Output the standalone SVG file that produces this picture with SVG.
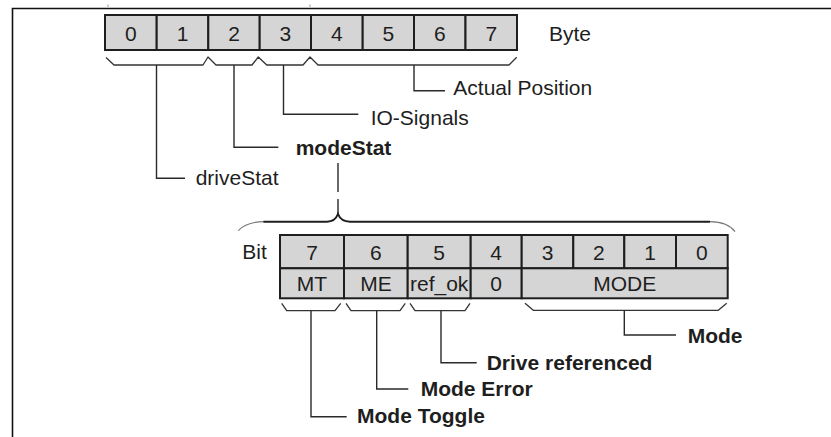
<svg xmlns="http://www.w3.org/2000/svg" width="831" height="437" viewBox="0 0 831 437">
<style>
text{font-family:"Liberation Sans",Arial,sans-serif;font-size:21px;fill:#1e1e1e}
.b{font-weight:bold}
.c{text-anchor:middle}
.cell{fill:#d5d5d5;stroke:#1e1e1e;stroke-width:2}
.ln{fill:none;stroke:#2a2a2a;stroke-width:1.4}
.br{fill:none;stroke:#333;stroke-width:1.3;stroke-linejoin:round}
</style>
<rect width="831" height="437" fill="#fff"/>
<g id="frame">
<path d="M12.5,437 V8.5 H831" fill="none" stroke="#111" stroke-width="1.6"/>
<path d="M108,4.5 V7 M310,4.5 V7" stroke="#999" stroke-width="1"/>
</g>
<g id="byte-row">
<rect class="cell" x="105" y="15" width="51.7" height="35"/>
<rect class="cell" x="156.7" y="15" width="51.6" height="35"/>
<rect class="cell" x="208.3" y="15" width="51.4" height="35"/>
<rect class="cell" x="259.7" y="15" width="51.3" height="35"/>
<rect class="cell" x="311" y="15" width="51.7" height="35"/>
<rect class="cell" x="362.7" y="15" width="51.3" height="35"/>
<rect class="cell" x="414" y="15" width="51.5" height="35"/>
<rect class="cell" x="465.5" y="15" width="51.5" height="35"/>
<text class="c" x="130.9" y="40.5">0</text>
<text class="c" x="182.5" y="40.5">1</text>
<text class="c" x="234" y="40.5">2</text>
<text class="c" x="285.4" y="40.5">3</text>
<text class="c" x="336.9" y="40.5">4</text>
<text class="c" x="388.4" y="40.5">5</text>
<text class="c" x="439.8" y="40.5">6</text>
<text class="c" x="491.3" y="40.5">7</text>
<text x="549" y="40.7">Byte</text>
</g>
<g id="bit-table">
<rect class="cell" x="280" y="235" width="64" height="33.3"/>
<rect class="cell" x="344" y="235" width="63.7" height="33.3"/>
<rect class="cell" x="407.7" y="235" width="63" height="33.3"/>
<rect class="cell" x="470.7" y="235" width="51" height="33.3"/>
<rect class="cell" x="521.7" y="235" width="51.6" height="33.3"/>
<rect class="cell" x="573.3" y="235" width="51" height="33.3"/>
<rect class="cell" x="624.3" y="235" width="51.7" height="33.3"/>
<rect class="cell" x="676" y="235" width="51.7" height="33.3"/>
<rect class="cell" x="280" y="268.3" width="64" height="30"/>
<rect class="cell" x="344" y="268.3" width="63.7" height="30"/>
<rect class="cell" x="407.7" y="268.3" width="63" height="30"/>
<rect class="cell" x="470.7" y="268.3" width="51" height="30"/>
<rect class="cell" x="521.7" y="268.3" width="206" height="30"/>
<text x="242.3" y="259">Bit</text>
<text class="c" x="312" y="259.5">7</text>
<text class="c" x="375.9" y="259.5">6</text>
<text class="c" x="439.2" y="259.5">5</text>
<text class="c" x="496.2" y="259.5">4</text>
<text class="c" x="547.5" y="259.5">3</text>
<text class="c" x="598.8" y="259.5">2</text>
<text class="c" x="650.2" y="259.5">1</text>
<text class="c" x="701.9" y="259.5">0</text>
<text class="c" x="312" y="291">MT</text>
<text class="c" x="375.9" y="291">ME</text>
<text class="c" x="439.2" y="291">ref_ok</text>
<text class="c" x="496.2" y="291">0</text>
<text class="c" x="624.7" y="291">MODE</text>
</g>
<g id="label-driveStat"><text x="195.7" y="184.5">driveStat</text></g>
<g id="label-modeStat"><text class="b" x="295.7" y="155">modeStat</text></g>
<g id="label-io"><text x="370.7" y="125">IO-Signals</text></g>
<g id="label-actual"><text x="453.3" y="95">Actual Position</text></g>
<g id="label-modetoggle"><text class="b" x="357" y="422.5">Mode Toggle</text></g>
<g id="label-modeerror"><text class="b" x="420.7" y="396">Mode Error</text></g>
<g id="label-drivereferenced"><text class="b" x="486.7" y="370">Drive referenced</text></g>
<g id="label-mode"><text class="b" x="687.7" y="343.3">Mode</text></g>
<g id="connectors">
<polyline class="br" points="106,57.5 114,65 203,65 208,57 216,65 252,65 258.3,57 266.7,65 303,65 310,57 318,65 509,65 516.7,57.3"/>
<path class="ln" d="M156.5,65 V178.3 H185"/>
<path class="ln" d="M234,65 V147.3 H278.3"/>
<path class="ln" d="M283.5,65 V114.3 H358.3"/>
<path class="ln" d="M414,65 V90.7 H445"/>
<path class="ln" d="M338,163 V192 M338,199 V214"/>
<path d="M238.3,230.7 Q246,222 263.3,221.7" fill="none" stroke="#777" stroke-width="1.2"/>
<path d="M263.3,221.7 H327 Q335,221.7 338,214 Q341,221.7 350,221.7 H710" fill="none" stroke="#1e1e1e" stroke-width="2"/>
<path d="M710,221.7 Q728,222 735,231.7" fill="none" stroke="#777" stroke-width="1.2"/>
<polyline class="br" points="281.7,303.3 286.7,310.7 335,310.7 340.7,303.3"/>
<polyline class="br" points="346,303.3 351,310.7 400,310.7 405.3,303.3"/>
<polyline class="br" points="410,303.3 415,310.7 465,310.7 470,303.3"/>
<polyline class="br" points="525,303.3 533.3,310.3 718.3,310.3 726.7,303.3"/>
<path class="ln" d="M311,310.7 V416.7 H346.7"/>
<path class="ln" d="M376.7,310.7 V389 H408.3"/>
<path class="ln" d="M441,310.7 V362.7 H476.7"/>
<path class="ln" d="M624.3,310.3 V335 H676"/>
</g>
</svg>
